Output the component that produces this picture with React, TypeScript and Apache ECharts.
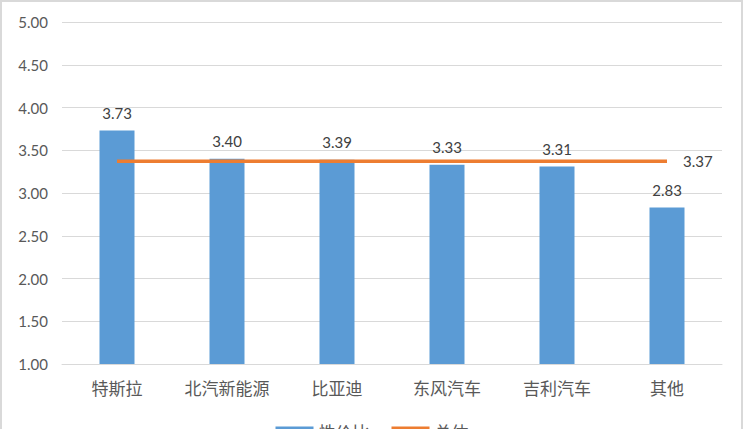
import { useEffect, useRef } from 'react'
import * as echarts from 'echarts'

const brands = ['特斯拉', '北汽新能源', '比亚迪', '东风汽车', '吉利汽车', '其他']
const valueRatio = [3.73, 3.4, 3.39, 3.33, 3.31, 2.83]
const overall = [3.37, 3.37, 3.37, 3.37, 3.37, 3.37]
const yTicks = ['1.00', '1.50', '2.00', '2.50', '3.00', '3.50', '4.00', '4.50', '5.00']

const numFont = 'Lato, "Open Sans", sans-serif'
const cjkFont = '"Noto Sans CJK SC", sans-serif'

export default function App() {
  const chartRef = useRef<HTMLDivElement | null>(null)

  useEffect(() => {
    document.body.style.margin = '0'
    if (!chartRef.current) {
      return
    }

    const chart = echarts.init(chartRef.current, undefined, { renderer: 'svg' })
    chart.setOption({
      animation: false,
      backgroundColor: '#ffffff',
      color: ['#5b9bd5', '#ed7d31'],
      grid: { top: 22, left: 62, right: 22, bottom: 65 },
      graphic: [
        {
          type: 'rect',
          shape: { x: 1, y: 1, width: 741, height: 450 },
          style: { fill: 'none', stroke: '#d9d9d9', lineWidth: 2 },
          silent: true,
        },
      ],
      legend: {
        top: 418,
        left: 'center',
        itemWidth: 38,
        itemHeight: 10,
        itemGap: 22,
        textStyle: { fontFamily: cjkFont, fontSize: 17, color: '#595959' },
        data: [
          { name: '性价比', icon: 'rect' },
          { name: '总体', icon: 'rect' },
        ],
      },
      xAxis: {
        type: 'category',
        data: brands,
        axisTick: { show: false },
        axisLine: { lineStyle: { color: '#d9d9d9', width: 1 } },
        axisLabel: {
          interval: 0,
          margin: 15,
          fontFamily: cjkFont,
          fontSize: 17,
          color: '#595959',
        },
      },
      yAxis: {
        type: 'value',
        min: 1,
        max: 5,
        interval: 0.5,
        axisLine: { show: false },
        axisTick: { show: false },
        splitLine: { lineStyle: { color: '#d9d9d9', width: 1 } },
        axisLabel: {
          margin: 14,
          fontFamily: numFont,
          fontSize: 15,
          color: '#595959',
          formatter: (v: number) => yTicks.find((t) => Number(t) === v) ?? v.toFixed(2),
        },
      },
      series: [
        {
          name: '性价比',
          type: 'bar',
          data: valueRatio,
          barWidth: 35,
          label: {
            show: true,
            position: 'top',
            distance: 10,
            fontFamily: numFont,
            fontSize: 15,
            color: '#404040',
            formatter: (p: { value: number }) => p.value.toFixed(2),
          },
        },
        {
          name: '总体',
          type: 'line',
          data: overall,
          symbol: 'none',
          lineStyle: { width: 3.5, color: '#ed7d31' },
          endLabel: {
            show: true,
            distance: 16,
            fontFamily: numFont,
            fontSize: 15,
            color: '#404040',
            formatter: (p: { value: number }) => p.value.toFixed(2),
          },
          z: 5,
        },
      ],
    })

    return () => {
      chart.dispose()
    }
  }, [])

  return (
    <div
      ref={chartRef}
      style={{ position: 'absolute', left: 0, top: 0, width: 744, height: 429 }}
    />
  )
}
